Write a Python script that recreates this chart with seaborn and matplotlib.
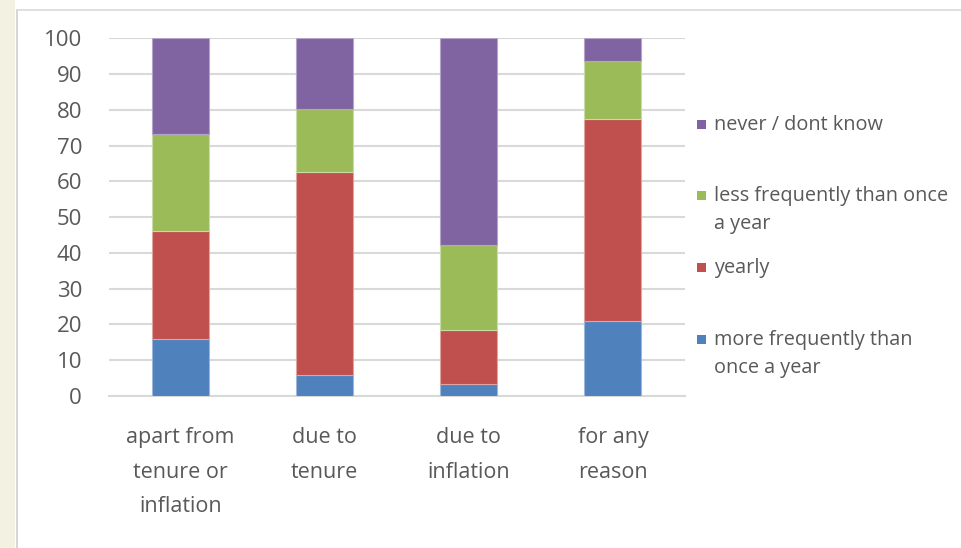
import numpy as np
import pandas as pd
import matplotlib
matplotlib.use("Agg")
import matplotlib.pyplot as plt
from matplotlib.patches import Rectangle
from matplotlib.lines import Line2D
import seaborn as sns

# Survey: how often pay is adjusted, by reason (percent of respondents)
categories = ["apart from\ntenure or\ninflation", "due to\ntenure", "due to\ninflation", "for any\nreason"]
series_names = ["more frequently than\nonce a year", "yearly",
                "less frequently than once\na year", "never / dont know"]
more_frequent = [16.0, 6.0, 3.4, 21.1]
yearly = [30.1, 56.5, 15.1, 56.3]
less_frequent = [27.1, 17.7, 23.6, 16.3]
never_dont_know = [26.8, 19.8, 57.9, 6.3]
y_ticks = [0, 10, 20, 30, 40, 50, 60, 70, 80, 90, 100]

colors = ["#4F81BD", "#C0504D", "#9BBB59", "#8064A2"]
edge_colors = ["#9DB7DC", "#E0A4A2", "#C9DCA5", "#B4A4CA"]
text_color = "#595959"
grid_color = "#D9D9D9"

sns.set_theme(style="white")
plt.rcParams["font.family"] = ["Open Sans", "DejaVu Sans"]

W, H = 961, 548
fig = plt.figure(figsize=(W / 100, H / 100), dpi=100)
fig.patch.set_facecolor("white")

def fx(px):
    return px / W

def fy(py):
    return 1 - py / H

# page margin strip and chart-area border
fig.add_artist(Rectangle((0, 0), fx(15), 1, transform=fig.transFigure,
                         facecolor="#F3F1E1", edgecolor="none", zorder=0))
fig.add_artist(Line2D([fx(16.5), fx(16.5)], [0, fy(9.5)], transform=fig.transFigure,
                      color="#D0D0D0", lw=1.2))
fig.add_artist(Line2D([fx(16.5), 1], [fy(9.5), fy(9.5)], transform=fig.transFigure,
                      color="#D9D9D9", lw=1.2))

ax = fig.add_axes([fx(108.5), fy(396), fx(685) - fx(108.5), fy(38.3) - fy(396)])

df = pd.DataFrame({"category": categories})
stack = [more_frequent, yearly, less_frequent, never_dont_know]
bottom = np.zeros(len(categories))
for name, vals, col, ecol in zip(series_names, stack, colors, edge_colors):
    sns.barplot(x=df["category"], y=np.array(vals), ax=ax, color=col,
                bottom=bottom.copy(), width=0.396, edgecolor=ecol,
                linewidth=0.8, saturation=1, zorder=3)
    bottom = bottom + np.array(vals)

ax.set_ylim(0, 100)
ax.set_xlim(-0.5, len(categories) - 0.5)
ax.set_yticks(y_ticks)
ax.yaxis.grid(True, color=grid_color, lw=1.5, zorder=0)
ax.set_axisbelow(True)
for s in ["top", "right", "left"]:
    ax.spines[s].set_visible(False)
ax.spines["bottom"].set_color(grid_color)
ax.spines["bottom"].set_linewidth(1.5)
ax.set_xlabel("")
ax.set_ylabel("")
ax.tick_params(axis="y", length=0, pad=19, labelsize=16, labelcolor=text_color)
ax.tick_params(axis="x", length=0, pad=22.5, labelsize=15.5, labelcolor=text_color)
for lbl in ax.get_xticklabels():
    lbl.set_linespacing(1.83)
    lbl.set_verticalalignment("top")

# legend entries, top to bottom
legend_y = [124, 195, 267, 339]
for i, y in enumerate(legend_y):
    idx = len(series_names) - 1 - i
    fig.add_artist(Rectangle((fx(697), fy(y + 4.5)), fx(9), fy(0) - fy(9),
                             transform=fig.transFigure, facecolor=colors[idx],
                             edgecolor="none"))
    fig.text(fx(714), fy(y - 9), series_names[idx], ha="left", va="top",
             fontsize=14.3, color=text_color, linespacing=1.55)

fig.savefig("out.png", dpi=100)
